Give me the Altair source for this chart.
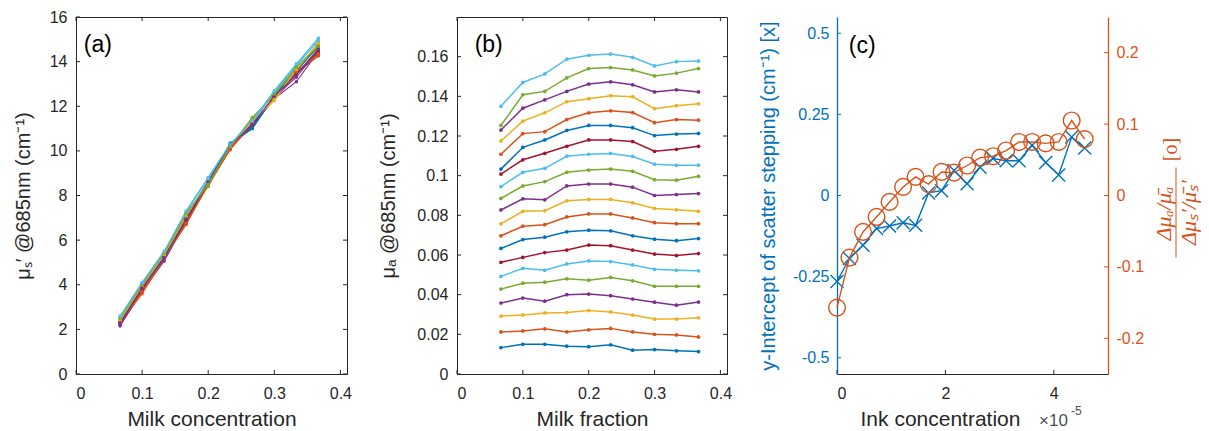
import altair as alt
import pandas as pd

# ---------------- data ----------------
milk = [0.0667, 0.1, 0.1333, 0.1667, 0.2, 0.2333, 0.2667, 0.3, 0.3333, 0.3667]

palette7 = ["#0072BD", "#D95319", "#EDB120", "#7E2F8E", "#77AC30", "#4DBEEE", "#A2142F"]
series_names = ["s%02d" % (i + 1) for i in range(20)]
series_colors = [palette7[i % 7] for i in range(20)]

# (a) reduced scattering coefficient, one list per sample series
mus_1 = [2.25, 3.85, 5.25, 6.95, 8.60, 10.35, 11.00, 12.45, 13.60, 14.70]
mus_2 = [2.30, 3.60, 5.20, 6.70, 8.50, 10.10, 11.20, 12.40, 13.50, 14.25]
mus_3 = [2.35, 3.80, 5.30, 6.90, 8.55, 10.20, 11.25, 12.30, 13.55, 14.90]
mus_4 = [2.15, 3.70, 5.05, 6.85, 8.50, 10.25, 11.10, 12.35, 13.10, 14.45]
mus_5 = [2.40, 3.95, 5.35, 7.10, 8.40, 10.20, 11.50, 12.50, 13.70, 14.60]
mus_6 = [2.55, 4.10, 5.45, 7.30, 8.80, 10.30, 11.30, 12.65, 13.85, 15.05]
mus_7 = [2.30, 3.75, 5.20, 6.95, 8.50, 10.15, 11.15, 12.35, 13.45, 14.55]
mus_8 = [2.35, 3.90, 5.30, 7.05, 8.65, 10.30, 11.05, 12.40, 13.60, 14.75]
mus_9 = [2.25, 3.65, 5.15, 6.80, 8.45, 10.05, 11.20, 12.30, 13.50, 14.30]
mus_10 = [2.40, 3.85, 5.30, 7.00, 8.60, 10.20, 11.30, 12.25, 13.60, 14.85]
mus_11 = [2.20, 3.80, 5.15, 6.90, 8.55, 10.20, 11.15, 12.40, 13.30, 14.50]
mus_12 = [2.45, 3.95, 5.35, 7.15, 8.45, 10.15, 11.45, 12.55, 13.70, 14.65]
mus_13 = [2.50, 4.05, 5.40, 7.25, 8.75, 10.25, 11.30, 12.60, 13.80, 14.95]
mus_14 = [2.30, 3.80, 5.25, 6.90, 8.55, 10.15, 11.20, 12.40, 13.50, 14.40]
mus_15 = [2.30, 3.90, 5.25, 7.00, 8.60, 10.30, 11.00, 12.45, 13.55, 14.70]
mus_16 = [2.30, 3.70, 5.20, 6.75, 8.50, 10.10, 11.25, 12.35, 13.55, 14.35]
mus_17 = [2.45, 3.90, 5.35, 7.05, 8.60, 10.20, 11.30, 12.30, 13.65, 14.80]
mus_18 = [2.25, 3.85, 5.20, 6.95, 8.60, 10.25, 11.20, 12.45, 13.40, 14.55]
mus_19 = [2.50, 4.00, 5.40, 7.20, 8.50, 10.20, 11.45, 12.55, 13.75, 14.70]
mus_20 = [2.60, 4.10, 5.50, 7.30, 8.80, 10.30, 11.35, 12.70, 13.90, 15.05]
mus_all = [mus_1, mus_2, mus_3, mus_4, mus_5, mus_6, mus_7, mus_8, mus_9, mus_10,
           mus_11, mus_12, mus_13, mus_14, mus_15, mus_16, mus_17, mus_18, mus_19, mus_20]

# (b) absorption coefficient, one list per sample series (bottom to top)
mua_1 = [0.0133, 0.0150, 0.0150, 0.0140, 0.0138, 0.0147, 0.0120, 0.0123, 0.0117, 0.0113]
mua_2 = [0.0212, 0.0217, 0.0228, 0.0212, 0.0223, 0.0230, 0.0212, 0.0200, 0.0197, 0.0187]
mua_3 = [0.0292, 0.0298, 0.0308, 0.0310, 0.0320, 0.0313, 0.0297, 0.0277, 0.0277, 0.0283]
mua_4 = [0.0358, 0.0383, 0.0367, 0.0400, 0.0403, 0.0395, 0.0378, 0.0362, 0.0347, 0.0363]
mua_5 = [0.0428, 0.0458, 0.0463, 0.0480, 0.0473, 0.0487, 0.0470, 0.0442, 0.0442, 0.0442]
mua_6 = [0.0492, 0.0533, 0.0523, 0.0555, 0.0570, 0.0567, 0.0550, 0.0528, 0.0523, 0.0520]
mua_7 = [0.0563, 0.0588, 0.0612, 0.0625, 0.0650, 0.0647, 0.0625, 0.0605, 0.0597, 0.0607]
mua_8 = [0.0633, 0.0678, 0.0690, 0.0717, 0.0725, 0.0722, 0.0697, 0.0680, 0.0672, 0.0683]
mua_9 = [0.0697, 0.0745, 0.0753, 0.0792, 0.0807, 0.0807, 0.0787, 0.0763, 0.0758, 0.0758]
mua_10 = [0.0757, 0.0820, 0.0823, 0.0873, 0.0880, 0.0880, 0.0863, 0.0835, 0.0828, 0.0820]
mua_11 = [0.0827, 0.0883, 0.0878, 0.0948, 0.0958, 0.0958, 0.0942, 0.0900, 0.0905, 0.0910]
mua_12 = [0.0885, 0.0948, 0.0970, 0.1017, 0.1028, 0.1033, 0.1022, 0.0980, 0.0977, 0.0997]
mua_13 = [0.0945, 0.1017, 0.1037, 0.1098, 0.1108, 0.1112, 0.1097, 0.1058, 0.1052, 0.1053]
mua_14 = [0.1008, 0.1080, 0.1113, 0.1148, 0.1180, 0.1180, 0.1172, 0.1123, 0.1133, 0.1148]
mua_15 = [0.1033, 0.1143, 0.1180, 0.1228, 0.1253, 0.1253, 0.1242, 0.1202, 0.1210, 0.1213]
mua_16 = [0.1108, 0.1212, 0.1222, 0.1283, 0.1317, 0.1327, 0.1318, 0.1267, 0.1283, 0.1280]
mua_17 = [0.1175, 0.1275, 0.1317, 0.1373, 0.1388, 0.1403, 0.1398, 0.1338, 0.1353, 0.1362]
mua_18 = [0.1230, 0.1340, 0.1382, 0.1425, 0.1462, 0.1473, 0.1458, 0.1422, 0.1433, 0.1422]
mua_19 = [0.1253, 0.1408, 0.1425, 0.1493, 0.1540, 0.1545, 0.1533, 0.1503, 0.1517, 0.1540]
mua_20 = [0.1350, 0.1470, 0.1513, 0.1587, 0.1607, 0.1613, 0.1597, 0.1553, 0.1575, 0.1578]
mua_all = [mua_1, mua_2, mua_3, mua_4, mua_5, mua_6, mua_7, mua_8, mua_9, mua_10,
           mua_11, mua_12, mua_13, mua_14, mua_15, mua_16, mua_17, mua_18, mua_19, mua_20]

# (c) ink concentration (x 1e-5)
ink = [0.0, 0.23, 0.48, 0.73, 0.97, 1.22, 1.45, 1.69, 1.93, 2.16,
       2.40, 2.64, 2.88, 3.12, 3.36, 3.60, 3.85, 4.09, 4.33, 4.57]
intercept = [-0.265, -0.194, -0.153, -0.102, -0.094, -0.084, -0.092, 0.008, 0.015, 0.077,
             0.036, 0.087, 0.114, 0.107, 0.107, 0.155, 0.102, 0.063, 0.180, 0.146]
ratio = [-0.157, -0.087, -0.051, -0.030, -0.009, 0.012, 0.026, 0.016, 0.033, 0.032,
         0.042, 0.053, 0.055, 0.063, 0.075, 0.075, 0.073, 0.075, 0.105, 0.079]

# tick values
xt_ab = [0, 0.1, 0.2, 0.3, 0.4]
yt_a = [0, 2, 4, 6, 8, 10, 12, 14, 16]
yt_b = [0, 0.02, 0.04, 0.06, 0.08, 0.1, 0.12, 0.14, 0.16]
xt_c = [0, 2, 4]
yt_c_left = [-0.5, -0.25, 0, 0.25, 0.5]
yt_c_right = [-0.2, -0.1, 0, 0.1, 0.2]

# ---------------- styling ----------------
FONT = "Liberation Sans"
TXT = "#262626"
BLUE = "#0072BD"
ORANGE = "#D95319"
H = 357
W_A, W_B, W_C = 271, 270, 271
LBL = 16
TTL = 21
TICK = 4
DY = -2.5  # offset of panel (c) decorations relative to a 14px plot top
LABEXPR = "'' + datum.value"


def long_df(lists):
    rows = []
    for name, vals in zip(series_names, lists):
        for xv, yv in zip(milk, vals):
            rows.append({"x": xv, "y": yv, "s": name})
    return pd.DataFrame(rows)


color_enc = alt.Color("s:N", scale=alt.Scale(domain=series_names, range=series_colors), legend=None)


def tick_layers(xvals, yvals, X, Y, W, color=TXT):
    """Inward ticks on all four sides of the box, positioned through the panel's scales."""
    xt = pd.DataFrame({"v": xvals})
    yt = pd.DataFrame({"v": yvals})
    out = []
    for y0, y1 in [(H, H - TICK), (0, TICK)]:
        out.append(alt.Chart(xt).mark_rule(color=color, strokeWidth=1).encode(
            x=X("v"), y=alt.value(y0), y2=alt.value(y1)))
    for x0, x1 in [(0, TICK), (W - TICK, W)]:
        out.append(alt.Chart(yt).mark_rule(color=color, strokeWidth=1).encode(
            y=Y("v"), x=alt.value(x0), x2=alt.value(x1)))
    return out


def panel_label(text, xv, yv, X, Y):
    d = pd.DataFrame({"x": [xv], "y": [yv], "t": [text]})
    return alt.Chart(d).mark_text(align="left", baseline="middle", fontSize=23, font=FONT,
                                  color="black").encode(x=X("x"), y=Y("y"), text="t:N")


def make_enc(cls, scale, axis):
    def f(field):
        return cls(field + ":Q", scale=scale, axis=axis)
    return f


# ---------------- panel (a) ----------------
xa = alt.Scale(domain=[0, 0.41], nice=False, zero=False)
ya = alt.Scale(domain=[0, 16], nice=False, zero=False)
ax_xa = alt.Axis(values=xt_ab, labelExpr=LABEXPR, title="Milk concentration")
ax_ya = alt.Axis(values=yt_a, labelExpr=LABEXPR, title="μₛ′ @685nm (cm⁻¹)", titlePadding=16,
                 titleFontSize=20, labelPadding=9)
XA = make_enc(alt.X, xa, ax_xa)
YA = make_enc(alt.Y, ya, ax_ya)
df_a = long_df(mus_all)
lines_a = alt.Chart(df_a).mark_line(strokeWidth=1.1).encode(x=XA("x"), y=YA("y"), color=color_enc)
pts_a = alt.Chart(df_a).mark_circle(size=12, opacity=1).encode(x=XA("x"), y=YA("y"), color=color_enc)
panel_a = alt.layer(lines_a, pts_a, *tick_layers(xt_ab, yt_a, XA, YA, W_A),
                    panel_label("(a)", 0.0117, 14.76, XA, YA)).properties(width=W_A, height=H)

# ---------------- panel (b) ----------------
xb = alt.Scale(domain=[0, 0.41], nice=False, zero=False)
yb = alt.Scale(domain=[0, 0.18], nice=False, zero=False)
ax_xb = alt.Axis(values=xt_ab, labelExpr=LABEXPR, title="Milk fraction")
ax_yb = alt.Axis(values=yt_b, labelExpr=LABEXPR, title="μₐ @685nm (cm⁻¹)", titlePadding=18,
                 titleFontSize=20, labelPadding=9)
XB = make_enc(alt.X, xb, ax_xb)
YB = make_enc(alt.Y, yb, ax_yb)
df_b = long_df(mua_all)
lines_b = alt.Chart(df_b).mark_line(strokeWidth=1.5).encode(x=XB("x"), y=YB("y"), color=color_enc)
pts_b = alt.Chart(df_b).mark_circle(size=14, opacity=1).encode(x=XB("x"), y=YB("y"), color=color_enc)
panel_b = alt.layer(lines_b, pts_b, *tick_layers(xt_ab, yt_b, XB, YB, W_B),
                    panel_label("(b)", 0.0268, 0.1657, XB, YB)).properties(width=W_B, height=H)

# ---------------- panel (c) ----------------
xc = alt.Scale(domain=[0, 5], nice=False, zero=False)
ycl = alt.Scale(domain=[-0.55, 0.55], nice=False, zero=False)
ycr = alt.Scale(domain=[-0.25, 0.25], nice=False, zero=False)
ax_xc = alt.Axis(values=xt_c, labelExpr=LABEXPR, title="Ink concentration", titleX=103,
                 titleAlign="center")
ax_ycl = alt.Axis(values=yt_c_left, labelExpr=LABEXPR, title="y-Intercept of scatter stepping (cm⁻¹) [x]",
                  titlePadding=14, titleFontSize=20, labelColor=BLUE, titleColor=BLUE, domainColor=BLUE,
                  domainWidth=1.3, labelPadding=8)
ax_ycr = alt.Axis(values=yt_c_right, labelExpr=LABEXPR, title="", orient="right",
                  labelColor=ORANGE, domainColor=ORANGE, domainWidth=1.3, labelPadding=8)
XC = make_enc(alt.X, xc, ax_xc)
YCL = make_enc(alt.Y, ycl, ax_ycl)
YCR = make_enc(alt.Y, ycr, ax_ycr)
df_c = pd.DataFrame({"x": ink, "yl": intercept, "yr": ratio})

XSHAPE = "M-1,-1L1,1M-1,1L1,-1"
blue_line = alt.Chart(df_c).mark_line(color=BLUE, strokeWidth=1.4).encode(x=XC("x"), y=YCL("yl"))
blue_pts = alt.Chart(df_c).mark_point(shape=XSHAPE, size=169, filled=False, color=BLUE, strokeWidth=1.4,
                                      opacity=1).encode(x=XC("x"), y=YCL("yl"))
bottom_ticks = alt.Chart(pd.DataFrame({"v": xt_c})).mark_rule(color=TXT, strokeWidth=1).encode(
    x=XC("v"), y=alt.value(H), y2=alt.value(H - TICK))
left_ticks = alt.Chart(pd.DataFrame({"v": yt_c_left})).mark_rule(color=BLUE, strokeWidth=1).encode(
    y=YCL("v"), x=alt.value(0), x2=alt.value(TICK))
exp_base = alt.Chart(pd.DataFrame({"t": ["×10"]})).mark_text(
    align="left", baseline="alphabetic", fontSize=17, font=FONT, color="#505050").encode(
    text="t:N", x=alt.value(202), y=alt.value(411 + DY))
exp_pow = alt.Chart(pd.DataFrame({"t": ["-5"]})).mark_text(
    align="left", baseline="alphabetic", fontSize=12, font=FONT, color="#505050").encode(
    text="t:N", x=alt.value(234), y=alt.value(400 + DY))
label_c = panel_label("(c)", 0.217, 0.461, XC, YCL)

left_c = alt.layer(blue_line, blue_pts, bottom_ticks, left_ticks, exp_base, exp_pow, label_c)

orange_line = alt.Chart(df_c).mark_line(color=ORANGE, strokeWidth=1.4).encode(x=XC("x"), y=YCR("yr"))
orange_pts = alt.Chart(df_c).mark_point(shape="circle", size=280, filled=False, color=ORANGE,
                                        strokeWidth=1.4, opacity=1).encode(x=XC("x"), y=YCR("yr"))
right_ticks = alt.Chart(pd.DataFrame({"v": yt_c_right})).mark_rule(color=ORANGE, strokeWidth=1).encode(
    y=YCR("v"), x=alt.value(W_C - TICK), x2=alt.value(W_C))

SERIF = "Liberation Serif"
num = alt.Chart(pd.DataFrame({"t": ["Δμₐ/μ̄ₐ"]})).mark_text(
    angle=270, align="center", baseline="middle", fontSize=22, font=SERIF, fontStyle="italic",
    color=ORANGE).encode(text="t:N", x=alt.value(327), y=alt.value(199 + DY))
den = alt.Chart(pd.DataFrame({"t": ["Δμₛ′/μ̄ₛ′"]})).mark_text(
    angle=270, align="center", baseline="middle", fontSize=22, font=SERIF, fontStyle="italic",
    color=ORANGE).encode(text="t:N", x=alt.value(352), y=alt.value(198 + DY))
bar = alt.Chart(pd.DataFrame({"t": ["bar"]})).mark_rule(color=ORANGE, strokeWidth=1).encode(
    x=alt.value(339), y=alt.value(153 + DY), y2=alt.value(243 + DY))
bracket = alt.Chart(pd.DataFrame({"t": ["[o]"]})).mark_text(
    angle=270, align="center", baseline="middle", fontSize=20, font=SERIF,
    color=ORANGE).encode(text="t:N", x=alt.value(334), y=alt.value(135 + DY))

right_c = alt.layer(orange_line, orange_pts, right_ticks, num, den, bar, bracket)

panel_c = alt.layer(left_c, right_c).resolve_scale(y="independent").properties(
    width=W_C, height=H, view=alt.ViewBackground(stroke="transparent"))

chart = alt.hconcat(panel_a, panel_b, panel_c, spacing=110, bounds="flush").properties(
    padding={"left": 4, "top": 0, "right": 0, "bottom": 0}
).configure_view(
    stroke=TXT, strokeWidth=1
).configure_axis(
    grid=False, ticks=False, labelFont=FONT, titleFont=FONT, labelFontSize=LBL, titleFontSize=TTL,
    titleFontWeight="normal", labelColor=TXT, titleColor=TXT, domainColor=TXT, domainWidth=1,
    labelPadding=11, titlePadding=7
)

chart.save("out.html", embed_options={"renderer": "svg", "actions": False})
